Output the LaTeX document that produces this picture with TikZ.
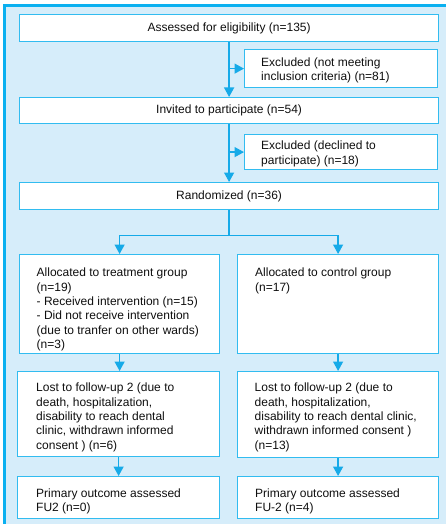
\documentclass[tikz,border=0pt]{standalone}
\usepackage{fontspec}
\setmainfont{Liberation Sans}
\usetikzlibrary{arrows.meta,calc}
\definecolor{bgblue}{RGB}{214,237,250}
\definecolor{frameblue}{RGB}{10,176,240}
\definecolor{boxblue}{RGB}{50,188,240}
\definecolor{arrblue}{RGB}{22,170,232}
\definecolor{txtc}{RGB}{15,15,15}
\begin{document}
\begin{tikzpicture}[x=1pt,y=-1pt,
 box/.style={draw=boxblue, line width=1.2pt, fill=white, inner sep=0pt, anchor=north west, font=\fontsize{12}{14.3}\selectfont, text=txtc},
 lbl/.style={anchor=north west, inner sep=0pt, align=left, font=\fontsize{12}{14.3}\selectfont, text=txtc},
 arr/.style={draw=arrblue, line width=1.4pt, -{Triangle[width=10pt,length=9.5pt]}},
 ln/.style={draw=arrblue, line width=1.4pt}]
\useasboundingbox (0,0) rectangle (446,524);
\fill[bgblue] (4.5,5.5) rectangle (447,525);
\draw[frameblue, line width=2.4pt] (4.5,526) -- (4.5,5.5) -- (447,5.5);

\node[box, minimum width=419pt, minimum height=27pt] (b1) at (19,14) {Assessed for eligibility (n=135)};
\node[box, minimum width=193pt, minimum height=38pt] (e1) at (244,49) {};
\node[lbl] (e1t) at (261,57.5) {Excluded (not meeting\\inclusion criteria) (n=81)};
\node[box, minimum width=419pt, minimum height=26pt] (b2) at (19,97) {Invited to participate (n=54)};
\node[box, minimum width=193pt, minimum height=35pt] (e2) at (244,134) {};
\node[lbl] (e2t) at (261,141) {Excluded (declined to\\participate) (n=18)};
\node[box, minimum width=419pt, minimum height=27pt] (b3) at (19,182) {Randomized (n=36)};
\node[box, minimum width=200pt, minimum height=99pt] (t1) at (19,254) {};
\node[lbl] (t1t) at (36.5,268) {Allocated to treatment group\\(n=19)\\- Received intervention (n=15)\\- Did not receive intervention\\(due to tranfer on other wards)\\(n=3)};
\node[box, minimum width=201pt, minimum height=99pt] (c1) at (237,254) {};
\node[lbl] (c1t) at (255,268) {Allocated to control group\\(n=17)};
\node[box, minimum width=202pt, minimum height=85pt] (t2) at (17,371) {};
\node[lbl] (t2t) at (36,383) {Lost to follow-up 2 (due to\\death, hospitalization,\\disability to reach dental\\clinic, withdrawn informed\\consent ) (n=6)};
\node[box, minimum width=201pt, minimum height=86pt] (c2) at (237,371) {};
\node[lbl] (c2t) at (254.5,383) {Lost to follow-up 2 (due to\\death, hospitalization,\\disability to reach dental clinic,\\withdrawn informed consent )\\(n=13)};
\node[box, minimum width=202pt, minimum height=42pt] (t3) at (17,476) {};
\node[lbl] (t3t) at (36,488.5) {Primary outcome assessed\\FU2 (n=0)};
\node[box, minimum width=201pt, minimum height=42pt] (c3) at (237,476) {};
\node[lbl] (c3t) at (255,488.5) {Primary outcome assessed\\FU-2 (n=4)};

\draw[arr] (b1.south) -- (b2.north);
\draw[arr] (b1.south |- e1.west) -- (e1.west);
\draw[arr] (b2.south) -- (b3.north);
\draw[arr] (b2.south |- e2.west) -- (e2.west);
\draw[ln] (b3.south) -- ++(0,25) coordinate (split);
\draw[arr] (split) -| (t1.north);
\draw[arr] (split) -| (c1.north);
\draw[arr] (t1.south) -- (t1.south |- t2.north);
\draw[arr] (c1.south) -- (c1.south |- c2.north);
\draw[arr] (t2.south) -- (t2.south |- t3.north);
\draw[arr] (c2.south) -- (c2.south |- c3.north);
\end{tikzpicture}
\end{document}
